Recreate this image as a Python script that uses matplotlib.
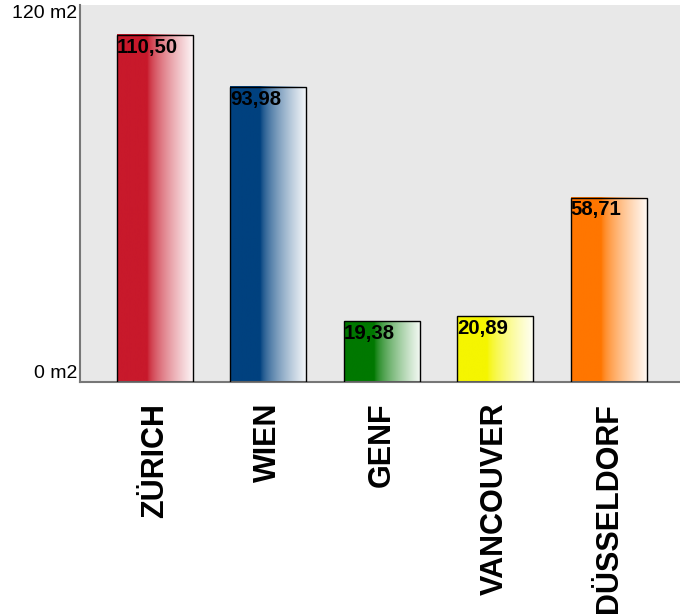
import numpy as np
from matplotlib import pyplot as plt
from matplotlib.colors import to_rgb

plt.rcParams['font.family'] = ['Liberation Sans', 'DejaVu Sans']

cities = ['ZÜRICH', 'WIEN', 'GENF', 'VANCOUVER', 'DÜSSELDORF']
values = [110.50, 93.98, 19.38, 20.89, 58.71]
labels = ['110,50', '93,98', '19,38', '20,89', '58,71']
colors = ['#c8192b', '#00417f', '#007800', '#f5f500', '#ff7600']
yticks = [0, 120]
yticklabels = ['0 m2', '120 m2']

fig = plt.figure(figsize=(6.8, 6.15), dpi=100)
ax = fig.add_axes([80/680, 233/615, 600/680, 377/615])
ax.set_facecolor('#e8e8e8')

w = 0.67
xs = np.arange(len(cities))
# horizontal gradient: solid left part, fading to white on the right
u = np.linspace(0, 1, 200)
fade = np.clip((u - 0.4) / 0.6, 0, 1) ** 0.7 * 0.95
for x, v, c in zip(xs, values, colors):
    rgb = np.array(to_rgb(c))
    row = rgb[None, :] * (1 - fade[:, None]) + fade[:, None]
    img = row[None, :, :]
    ax.imshow(img, extent=(x - w/2, x + w/2, 0, v), aspect='auto', zorder=2)
ax.bar(xs, values, width=w, facecolor='none', edgecolor='black', linewidth=1, zorder=3)

for x, v, t in zip(xs, values, labels):
    ax.annotate(t, (x - w/2, v), xytext=(0, -2), textcoords='offset points',
                ha='left', va='top', fontsize=14.7, fontweight='bold', zorder=4)

ax.set_xlim(-0.66, 4.63)
ax.set_ylim(0, 120)
ax.set_xticks(xs)
ax.set_xticklabels(cities, rotation=90, fontsize=22, fontweight='bold', va='top', ha='center')
ax.set_yticks(yticks)
ax.set_yticklabels(yticklabels, fontsize=14)
tl = ax.get_yticklabels()
tl[0].set_va('bottom')
tl[1].set_va('top')
ax.tick_params(axis='y', length=0, pad=2)
ax.tick_params(axis='x', length=0, pad=15)
for s in ['top', 'right']:
    ax.spines[s].set_visible(False)
for s in ['left', 'bottom']:
    ax.spines[s].set_color('#777777')
    ax.spines[s].set_linewidth(1.5)

fig.savefig('out.png')
